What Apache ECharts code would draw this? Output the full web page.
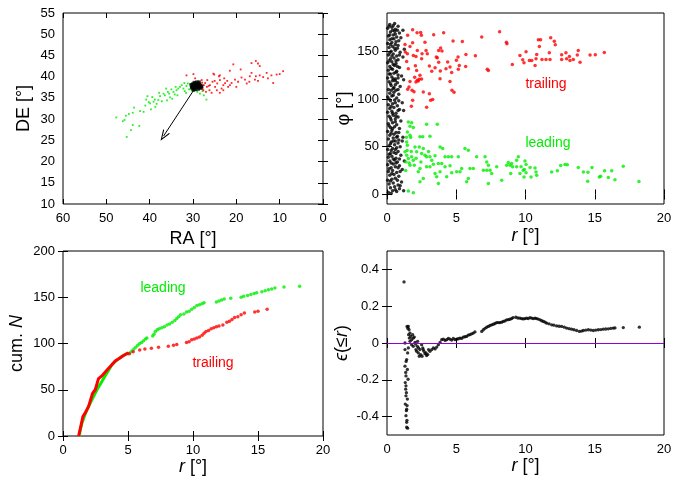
<!DOCTYPE html>
<html><head><meta charset="utf-8">
<script src="https://cdn.jsdelivr.net/npm/echarts@6/dist/echarts.min.js"></script>
<style>html,body{margin:0;padding:0;background:#fff}#c{width:675px;height:483px}</style>
</head><body><div id="c"></div>
<script>
// ---------- Panel 1: RA / DE ----------
const p1Leading = [[47.7,30.4],[45.5,30.8],[45.8,29.8],[44.3,27.4],[45.3,25.8],[43.9,28.6],[42.4,28.4],[43.9,31.5],[43.6,32.7],[42.2,31.9],[41.4,31.7],[40.8,34.6],[40.5,35.4],[39.9,33.7],[39.7,32.3],[39.1,34.1],[38.7,32.9],[38.0,34.5],[37.6,35.4],[36.8,36.0],[36.2,37.2],[35.3,35.1],[34.5,36.4],[33.8,36.8],[33.0,37.6],[32.2,37.2],[31.5,37.8],[30.7,38.2],[30.3,36.8],[28.4,36.0],[27.5,35.6],[26.9,34.6],[46.2,29.5],[44.8,31.2],[41.0,33.2],[40.2,34.0],[39.4,35.2],[38.4,33.6],[37.2,34.2],[36.5,35.6],[35.8,36.4],[35.0,37.0],[34.2,35.8],[33.4,37.2],[32.6,38.0],[31.9,36.6],[31.2,38.4],[30.5,37.4],[29.9,36.6],[29.0,36.4],[33.6,35.6],[34.8,34.8],[36.0,34.4],[37.8,36.2],[32.0,38.5],[30.9,37.0],[31.6,36.2],[34.0,37.6],[35.5,36.0],[38.8,34.6],[29.6,38.4],[27.8,36.6],[28.8,37.0]];
const p1Trailing = [[31.5,40.3],[29.9,40.6],[29.5,39.6],[25.3,40.7],[23.8,40.3],[28.0,39.2],[28.4,38.0],[27.8,37.2],[27.6,36.8],[27.0,36.4],[27.2,38.5],[26.7,39.2],[26.1,38.0],[25.5,38.8],[24.9,37.6],[24.4,38.4],[23.8,39.2],[23.4,37.2],[23.0,38.0],[22.6,38.5],[22.1,39.0],[21.5,38.0],[23.8,36.2],[25.7,36.2],[26.8,37.6],[26.2,36.8],[24.5,36.8],[23.0,36.8],[21.9,37.6],[21.1,38.5],[20.3,39.3],[19.6,38.8],[18.8,39.8],[18.0,39.3],[24.0,40.1],[25.1,40.5],[20.7,42.9],[19.0,41.7],[21.5,41.4],[20.0,37.6],[16.5,43.2],[15.5,43.7],[15.0,43.1],[14.6,42.5],[16.9,40.1],[15.7,39.3],[15.0,39.0],[14.6,40.3],[13.8,39.9],[13.0,40.9],[12.7,39.6],[11.9,40.3],[11.5,38.5],[10.7,40.5],[10.0,40.6],[9.2,41.3],[16.5,40.9],[15.5,40.1],[17.0,38.8],[17.6,38.4],[27.5,38.0],[26.4,37.8],[25.0,39.0],[22.8,39.6],[27.9,38.6]];
const p1Core = [[30.2,37.8],[30.0,38.3],[30.0,37.3],[29.7,38.6],[29.7,37.9],[29.7,37.2],[29.4,38.4],[29.4,37.7],[29.4,37.0],[29.1,38.7],[29.1,38.1],[29.1,37.5],[28.8,38.4],[28.8,37.8],[28.8,37.1],[28.5,38.2],[28.5,37.5],[28.2,37.9],[28.2,37.3],[30.4,38.1],[29.9,36.9],[28.6,38.7],[30.3,37.4],[28.0,37.7]];
const arrowFrom = [29.2, 37.8];
const arrowTo = [36.8, 26.0];

// ---------- Panel 2: r / phi ----------
const p2Core = [[0.1,2],[0.4,4],[0.7,3],[0.25,7],[0.55,8],[0.9,6],[0.15,11],[0.45,12],[0.8,10],[1.05,13],[0.05,15],[0.35,16],[0.6,17],[0.2,20],[0.5,21],[0.85,19],[0.1,24],[0.4,25],[0.7,23],[1.1,26],[0.3,28],[0.6,29],[0.05,31],[0.45,32],[0.9,30],[0.2,35],[0.55,36],[0.75,34],[0.1,39],[0.35,40],[0.65,38],[1.0,41],[0.25,43],[0.5,44],[0.8,45],[0.05,47],[0.4,48],[0.7,49],[0.15,51],[0.55,52],[0.95,50],[0.3,55],[0.6,56],[0.1,58],[0.45,59],[0.85,57],[0.2,62],[0.5,63],[0.75,61],[1.15,60],[0.05,66],[0.35,67],[0.65,65],[0.25,70],[0.55,71],[0.9,69],[0.1,74],[0.4,75],[0.7,73],[0.3,78],[0.6,79],[1.0,77],[0.15,82],[0.45,83],[0.8,81],[0.05,86],[0.35,87],[0.65,85],[0.2,90],[0.5,91],[0.9,89],[0.1,94],[0.4,95],[0.75,93],[1.1,96],[0.25,98],[0.55,99],[0.05,102],[0.35,103],[0.7,101],[0.2,106],[0.5,107],[0.85,105],[0.1,110],[0.45,111],[0.65,109],[0.3,114],[0.6,115],[0.95,113],[0.15,118],[0.4,119],[0.75,117],[0.05,122],[0.35,123],[0.6,121],[1.05,124],[0.25,126],[0.5,127],[0.8,125],[0.1,130],[0.4,131],[0.7,129],[0.2,134],[0.55,135],[0.9,133],[0.05,138],[0.35,139],[0.65,137],[0.25,142],[0.5,143],[0.8,141],[1.15,144],[0.1,146],[0.45,147],[0.7,145],[0.3,150],[0.6,151],[0.95,149],[0.15,154],[0.4,155],[0.75,153],[0.05,158],[0.35,159],[0.6,157],[0.2,162],[0.5,163],[0.85,161],[0.1,166],[0.45,167],[0.7,165],[0.25,170],[0.55,171],[0.9,169],[0.05,174],[0.35,175],[0.6,173],[0.2,178],[0.45,177],[0.8,176],
[0.3,1],[0.6,5],[0.95,9],[0.25,14],[0.75,15],[0.35,22],[0.95,24],[0.15,27],[0.8,28],[0.3,33],[0.65,33],[0.45,37],[0.9,37],[0.15,42],[0.65,43],[0.3,46],[0.6,47],[0.25,53],[0.8,54],[0.45,56],[0.7,60],[0.3,64],[0.85,65],[0.4,69],[0.15,72],[0.6,76],[0.25,80],[0.65,82],[0.4,85],[0.8,88],[0.3,92],[0.6,96],[0.15,100],[0.85,98],[0.45,104],[0.3,109],[0.8,110],[0.5,112],[0.25,116],[0.6,119],[0.45,121],[0.8,122],[0.15,126],[0.65,128],[0.3,132],[0.75,134],[0.45,136],[0.15,140],[0.65,140],[0.35,145],[0.9,146],[0.2,148],[0.55,153],[0.8,156],[0.25,157],[0.65,160],[0.35,163],[1.0,164],[0.2,167],[0.6,168],[0.4,172],[0.75,172],[0.15,176],[0.55,179],[1.2,4],[1.25,35],[1.2,88],[1.25,152],[1.2,120],[1.1,56],[1.15,172]];
const p2Trailing = [[1.49,166.8],[1.85,172.4],[2.17,169.3],[2.43,169.6],[2.48,166.8],[1.85,158.8],[1.66,155.0],[1.30,157.1],[1.32,149.1],[1.47,147.3],[1.42,139.3],[1.54,131.7],[1.90,145.6],[2.09,144.5],[2.19,150.8],[2.53,147.3],[2.74,159.5],[2.82,150.8],[2.91,147.3],[3.06,134.4],[3.23,128.9],[3.37,167.2],[2.50,142.1],[2.14,129.9],[2.33,120.5],[2.09,117.7],[2.26,118.8],[2.50,120.9],[2.38,124.7],[2.05,134.8],[1.66,118.4],[1.81,109.0],[1.95,107.6],[1.85,98.6],[1.76,92.3],[1.59,112.5],[1.49,110.1],[2.00,122.6],[2.19,119.6],[2.62,107.3],[3.06,105.5],[2.86,91.3],[3.15,98.6],[3.30,99.3],[3.73,150.8],[3.97,150.1],[3.63,143.2],[3.56,143.9],[3.73,138.3],[3.85,129.2],[3.83,121.2],[4.26,131.7],[4.38,138.6],[4.09,169.3],[3.87,153.3],[3.47,132.7],[4.55,133.4],[4.67,127.8],[4.55,118.4],[4.69,109.0],[4.84,106.9],[4.77,160.6],[5.44,160.2],[5.01,140.4],[5.22,135.1],[5.15,131.0],[5.68,134.1],[5.13,143.9],[5.70,146.6],[6.38,145.2],[6.84,164.8],[7.24,131.0],[7.32,129.9],[8.13,170.3],[8.62,159.5],[8.66,157.8],[9.05,136.2],[9.60,145.6],[9.80,141.0],[9.89,137.9],[10.04,149.4],[10.28,140.3],[10.45,140.3],[10.69,135.1],[10.81,146.6],[10.76,142.1],[10.93,161.9],[11.09,161.9],[11.00,154.9],[11.19,141.4],[11.48,141.4],[11.77,141.4],[11.72,148.4],[11.82,164.0],[12.08,160.5],[12.15,156.7],[12.61,146.3],[12.61,141.4],[12.92,148.4],[12.97,142.1],[13.17,144.5],[13.21,140.3],[13.45,141.4],[13.74,145.9],[13.81,150.8],[13.94,138.3],[14.66,145.9],[15.04,146.3],[15.69,148.7]];
const p2Leading = [[1.54,75.9],[1.78,75.2],[1.66,71.4],[1.90,70.0],[1.47,65.5],[1.66,62.0],[1.71,59.6],[1.42,55.0],[1.47,51.5],[2.38,60.3],[2.58,60.3],[2.86,73.5],[3.10,61.0],[3.63,73.5],[2.02,49.8],[2.33,49.8],[2.62,48.1],[2.14,44.6],[1.30,44.6],[1.42,41.1],[1.54,37.6],[1.78,39.4],[1.90,35.9],[1.66,30.7],[1.37,34.1],[1.97,30.7],[2.50,42.8],[2.74,41.1],[2.86,39.4],[3.10,39.4],[3.23,35.9],[3.47,40.4],[3.71,32.4],[3.83,49.8],[4.02,48.1],[4.19,39.4],[4.43,39.4],[4.67,39.4],[5.15,39.4],[5.63,48.1],[5.87,46.3],[6.47,39.4],[7.08,39.4],[7.20,34.1],[7.32,30.7],[7.44,25.4],[7.20,25.4],[7.56,21.9],[8.28,15.0],[6.96,25.4],[6.23,27.2],[5.99,27.2],[5.39,27.2],[5.27,23.7],[5.03,23.7],[4.67,22.6],[4.55,30.0],[4.19,28.9],[3.95,32.4],[3.35,31.7],[3.10,28.9],[2.86,28.9],[2.38,27.2],[2.26,23.7],[3.47,21.9],[3.83,23.7],[3.59,18.5],[2.62,16.7],[2.38,13.2],[3.71,11.5],[4.31,18.5],[5.75,13.2],[5.87,16.7],[7.32,11.5],[8.64,30.7],[8.76,33.4],[9.00,32.4],[9.36,35.9],[9.48,39.4],[9.84,25.4],[1.90,1.7],[1.54,3.5],[7.92,28.9],[8.88,30.7],[8.93,21.9],[9.07,28.9],[9.36,28.9],[9.60,21.9],[9.68,28.9],[9.96,35.1],[10.04,31.3],[9.92,26.1],[10.04,22.6],[9.89,18.4],[10.33,28.2],[10.40,18.4],[10.69,27.8],[10.76,23.6],[10.81,20.2],[11.89,23.6],[12.30,24.7],[12.54,30.3],[12.85,31.3],[13.02,31.0],[13.81,28.2],[14.18,23.6],[14.49,13.9],[14.51,23.3],[14.80,28.2],[15.33,18.4],[15.43,19.1],[15.71,24.7],[15.98,17.7],[16.22,24.7],[16.46,15.3],[17.06,29.6],[18.19,13.6],[1.35,25.0],[1.45,46.0],[1.60,33.0],[2.10,38.0],[2.45,34.0],[3.00,45.0],[1.40,60.0],[1.75,45.0]];

// ---------- Panel 3: cumulative counts ----------
const p3LeadingDense = [[1.25,0],[1.35,8],[1.46,14],[1.71,24],[1.97,32],[2.22,39],[2.61,50],[2.99,59],[3.37,68],[3.76,77],[4.14,82],[4.53,86],[4.9,89]];
const p3Leading = [[5.0,89],[5.15,90],[5.3,92],[5.45,94],[5.6,96],[5.75,98],[5.9,100],[6.05,101],[6.2,103],[6.35,105],[6.45,106],[6.9,108],[7.0,110],[7.1,113],[7.25,115],[7.4,116],[7.6,117],[7.8,118],[8.0,120],[8.2,121],[8.4,123],[8.6,125],[8.75,127],[8.9,129],[9.05,131],[9.3,132],[9.5,134],[9.7,135],[9.9,137],[10.1,139],[10.3,141],[10.5,142],[10.7,143],[10.85,144],[11.8,145],[12.0,146],[12.2,147],[12.4,148],[12.9,149],[13.7,150],[13.9,151],[14.2,152],[14.45,153],[14.7,154],[14.9,155],[15.3,156],[15.55,157],[15.8,158],[16.05,159],[16.3,160],[17.0,161],[18.2,162]];
const p3TrailingDense = [[1.2,0],[1.3,6],[1.53,21],[1.71,25],[1.97,32],[2.27,46],[2.48,50],[2.73,62],[2.99,65],[3.37,71],[3.76,77],[4.01,81],[4.35,84],[4.65,87],[5.04,90]];
const p3Trailing = [[5.1,89],[5.4,91],[5.9,93],[6.3,94],[6.8,95],[7.35,96],[8.1,97],[8.5,98],[8.75,99],[9.5,101],[9.7,102],[9.9,104],[10.1,105],[10.3,106],[10.5,107],[10.7,109],[10.85,111],[11.0,113],[11.2,114],[11.4,116],[11.6,117],[11.8,118],[12.0,119],[12.3,120],[12.6,123],[12.8,124],[13.0,126],[13.2,128],[13.45,129],[13.7,131],[13.95,133],[14.75,134],[15.0,135],[15.7,137]];

// ---------- Panel 4: asymmetry ----------
const p4Eps = [[1.23,0.332],[1.30,0.0],[1.30,-0.036],[1.30,-0.126],[1.32,-0.215],[1.35,-0.251],[1.37,-0.179],[1.37,-0.287],[1.32,-0.332],[1.37,-0.395],[1.40,-0.368],[1.42,-0.431],[1.42,-0.458],[1.44,-0.42],[1.47,-0.305],[1.42,-0.36],[1.49,-0.463],[1.47,-0.144],[1.52,-0.197],[1.42,-0.09],[1.49,-0.054],[1.54,-0.027],[1.35,-0.16],[1.37,-0.233],[1.40,-0.27],[1.45,-0.34],[1.38,-0.10],[1.45,0.09],[1.50,0.08],[1.54,0.09],[1.59,0.072],[1.66,0.054],[1.56,0.045],[1.71,0.036],[1.61,0.027],[1.78,0.018],[1.66,0.009],[1.85,0.045],[1.90,0.027],[1.97,0.032],[1.78,-0.009],[2.02,0.003],[1.9,-0.018],[2.07,-0.006],[2.09,-0.036],[2.14,-0.045],[2.19,-0.018],[2.21,0.009],[2.26,-0.054],[2.28,-0.027],[2.33,-0.072],[2.38,-0.036],[2.43,-0.063],[2.5,-0.009],[2.53,-0.072],[2.58,-0.027],[2.62,-0.036],[2.67,-0.045],[2.74,-0.058],[2.82,-0.054],[2.86,-0.068],[2.94,-0.063],[3.0,-0.036],[3.1,-0.045],[3.23,-0.036],[3.35,-0.027],[3.47,-0.032],[3.59,-0.022],[3.71,-0.009],[3.83,0.003],[3.95,0.018],[4.07,0.021],[4.2,0.014],[4.31,0.018],[4.43,0.025],[4.55,0.021],[4.67,0.016],[4.79,0.025],[4.91,0.018],[5.03,0.021],[5.15,0.023],[5.27,0.027],[5.39,0.025],[5.51,0.032],[5.63,0.034],[5.75,0.036],[5.87,0.043],[5.99,0.045],[6.11,0.05],[6.23,0.054],[6.35,0.06],[6.84,0.063],[6.96,0.072],[7.08,0.08],[7.2,0.086],[7.32,0.09],[7.44,0.095],[7.56,0.099],[7.68,0.102],[7.8,0.106],[7.92,0.111],[8.04,0.111],[8.16,0.111],[8.28,0.113],[8.4,0.117],[8.52,0.12],[8.64,0.126],[8.76,0.127],[8.88,0.129],[9.0,0.133],[9.1,0.138],[9.3,0.14],[9.45,0.136],[9.6,0.135],[9.72,0.133],[9.84,0.131],[9.96,0.133],[10.08,0.135],[10.2,0.133],[10.32,0.138],[10.45,0.135],[10.57,0.133],[10.7,0.135],[10.8,0.133],[10.92,0.13],[11.05,0.126],[11.17,0.121],[11.29,0.117],[11.41,0.113],[11.53,0.108],[11.7,0.104],[11.89,0.099],[12.05,0.097],[12.25,0.093],[12.43,0.091],[12.61,0.09],[12.8,0.086],[12.97,0.081],[13.15,0.078],[13.33,0.075],[13.5,0.072],[13.69,0.068],[13.89,0.063],[14.05,0.065],[14.18,0.068],[14.36,0.07],[14.54,0.072],[14.72,0.07],[14.9,0.068],[15.08,0.07],[15.26,0.072],[15.44,0.073],[15.62,0.075],[15.8,0.076],[15.98,0.077],[16.16,0.079],[16.34,0.081],[16.46,0.082],[17.06,0.084],[18.22,0.086]];

// ---------- tick labels ----------
const p2PhiTicks = [0, 50, 100, 150];
const p4EpsTicks = [-0.4, -0.2, 0, 0.2, 0.4];

const FONT = 'Liberation Sans, Arial, sans-serif';
const RED = '#ff0000', GREEN = '#00ee00';

const grids = [
  {left:63, top:13, width:260, height:191},
  {left:387, top:13, width:277, height:191},
  {left:63, top:251, width:260, height:185},
  {left:387, top:251, width:277, height:184}
].map(g => Object.assign(g, {show:true, borderColor:'#000', borderWidth:1, backgroundColor:'transparent'}));

const tick = {show:true, inside:true, length:5, lineStyle:{color:'#000', width:1}};
const nameStyle = {fontFamily:FONT, fontSize:18, color:'#000', rich:{i:{fontFamily:FONT, fontSize:18, fontStyle:'italic', color:'#000'}}};
const labStyle = {fontFamily:FONT, fontSize:13, color:'#000'};

function axisPair(gi, dim, cfg) {
  const main = Object.assign({
    type:'value', gridIndex:gi, position: dim==='x'?'bottom':'left',
    axisLine:{show:false}, splitLine:{show:false},
    axisTick:Object.assign({}, tick, cfg.tickVals?{customValues:cfg.tickVals}:{}),
    axisLabel:Object.assign({show:true, margin:8}, labStyle, cfg.tickVals?{customValues:cfg.tickVals}:{}, cfg.fmt?{formatter:cfg.fmt}:{}),
    nameLocation:'middle', nameTextStyle:nameStyle
  }, cfg.common, {name:cfg.name, nameGap:cfg.nameGap});
  const mirror = Object.assign({
    type:'value', gridIndex:gi, position: dim==='x'?'top':'right',
    axisLine:{show:false}, splitLine:{show:false},
    axisTick:Object.assign({}, tick, cfg.tickVals?{customValues:cfg.tickVals}:{}),
    axisLabel:{show:false}
  }, cfg.common);
  return [main, mirror];
}

const xAxes = [].concat(
  axisPair(0,'x',{common:{min:0,max:60,interval:10,inverse:true}, name:'RA [°]', nameGap:26}),
  axisPair(1,'x',{common:{min:0,max:20,interval:5}, name:'{i|r} [°]', nameGap:23}),
  axisPair(2,'x',{common:{min:0,max:20,interval:5}, name:'{i|r} [°]', nameGap:21}),
  axisPair(3,'x',{common:{min:0,max:20,interval:5}, name:'{i|r} [°]', nameGap:20})
);
const yAxes = [].concat(
  axisPair(0,'y',{common:{min:10,max:55,interval:5}, name:'DE [°]', nameGap:30}),
  axisPair(1,'y',{common:{min:-10,max:190}, tickVals:p2PhiTicks, name:'φ [°]', nameGap:34}),
  axisPair(2,'y',{common:{min:0,max:200,interval:50}, name:'cum. {i|N}', nameGap:37}),
  axisPair(3,'y',{common:{min:-0.5,max:0.5}, tickVals:p4EpsTicks, fmt:(v)=>String(Math.round(v*10)/10), name:'{i|ϵ}(≤{i|r})', nameGap:36})
);

function sc(gi, data, color, size, symbol, extra) {
  return Object.assign({type:'scatter', xAxisIndex:2*gi, yAxisIndex:2*gi, data:data,
    symbol:symbol||'circle', symbolSize:size, itemStyle:{color:color}, silent:true}, extra||{});
}
function ln(gi, data, color, width) {
  return {type:'line', xAxisIndex:2*gi, yAxisIndex:2*gi, data:data, showSymbol:false, silent:true,
    lineStyle:{color:color, width:width}, itemStyle:{color:color}};
}

const series = [
  sc(0, p1Leading, GREEN, 1.8, 'rect', {itemStyle:{color:GREEN, opacity:0.85}}),
  sc(0, p1Trailing, RED, 1.8, 'rect', {itemStyle:{color:RED, opacity:0.85}}),
  sc(0, p1Core, '#000', 3.5, 'rect', {markLine:{silent:true, symbol:['none','path://M5,0 L10,11 L8.6,11 L5,3 L1.4,11 L0,11 Z'], symbolSize:[8,11],
      lineStyle:{color:'#000', width:1, type:'solid'}, label:{show:false},
      data:[[{coord:arrowFrom},{coord:arrowTo}]]}}),
  sc(1, p2Core, '#000', 3.5),
  sc(1, p2Trailing, RED, 3.5),
  sc(1, p2Leading, GREEN, 3.5),
  ln(2, p3LeadingDense, GREEN, 3),
  sc(2, p3Leading, GREEN, 3.5),
  ln(2, p3TrailingDense, RED, 3),
  sc(2, p3Trailing, RED, 3.5),
  sc(3, p4Eps, '#000', 3.3, 'circle', {markLine:{silent:true, symbol:['none','none'], label:{show:false},
      lineStyle:{color:'#9400d3', width:1, type:'solid'}, data:[{yAxis:0}]}})
];

const txt = (x, y, s, color) => ({type:'text', x:x, y:y, style:{text:s, fill:color, font:'14px '+FONT, textAlign:'center', textVerticalAlign:'middle'}});

const chart = echarts.init(document.getElementById('c'), null, {renderer:'canvas'});
chart.setOption({
  animation:false,
  backgroundColor:'#fff',
  grid:grids, xAxis:xAxes, yAxis:yAxes, series:series,
  graphic:[
    txt(546, 84, 'trailing', RED),
    txt(548, 143, 'leading', GREEN),
    txt(163, 288, 'leading', GREEN),
    txt(213, 363, 'trailing', RED)
  ]
});
</script></body></html>
